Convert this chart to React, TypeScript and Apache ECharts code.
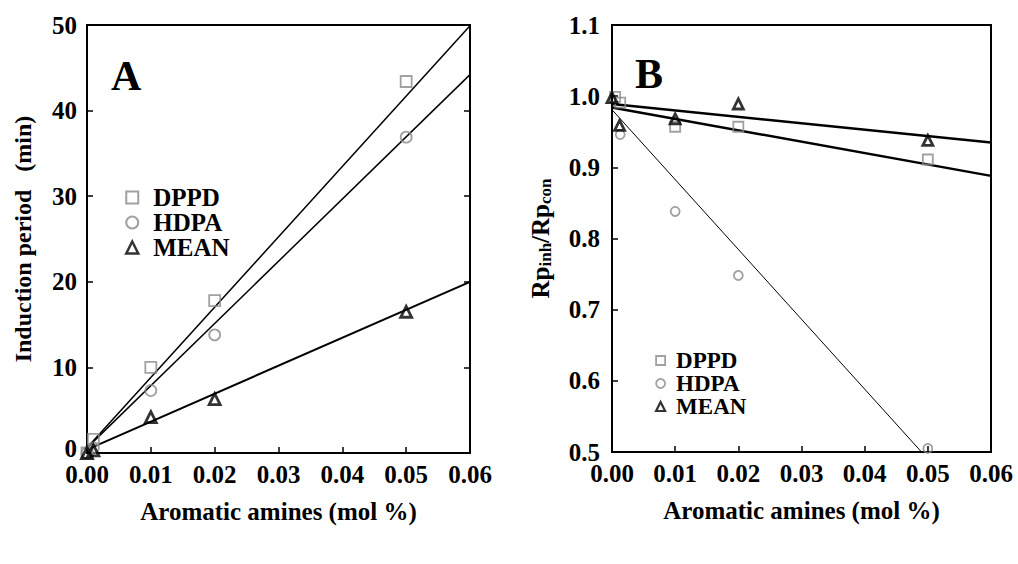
import React, { useEffect, useRef } from "react";
import * as echarts from "echarts";

// ---------- Panel A: induction period (min) ----------
const aDPPD: number[][] = [[0, 0], [0.001, 1.6], [0.01, 10.0], [0.02, 17.8], [0.05, 43.4]];
const aHDPA: number[][] = [[0, 0], [0.001, 0.6], [0.01, 7.3], [0.02, 13.8], [0.05, 36.9]];
const aMEAN: number[][] = [[0, 0], [0.001, 0.3], [0.01, 4.2], [0.02, 6.3], [0.05, 16.5]];
const aFitDPPD: number[][] = [[0, 0.6], [0.06, 49.9]];
const aFitHDPA: number[][] = [[0, 0.6], [0.06, 44.2]];
const aFitMEAN: number[][] = [[0, 0.4], [0.06, 20.0]];

// ---------- Panel B: Rp_inh / Rp_con ----------
const bDPPD: number[][] = [[0.0005, 0.999], [0.0013, 0.991], [0.01, 0.957], [0.02, 0.957], [0.05, 0.911]];
const bHDPA: number[][] = [[0.0013, 0.946], [0.01, 0.838], [0.02, 0.748], [0.05, 0.505]];
const bMEAN: number[][] = [[0, 0.998], [0.0012, 0.959], [0.01, 0.968], [0.02, 0.989], [0.05, 0.938]];
const bFitDPPD: number[][] = [[0, 0.984], [0.06, 0.888]];
const bFitHDPA: number[][] = [[0, 0.981], [0.049, 0.5]];
const bFitMEAN: number[][] = [[0, 0.989], [0.06, 0.935]];

const xTicks = [0, 0.01, 0.02, 0.03, 0.04, 0.05, 0.06];
const seriesNames = ["DPPD", "HDPA", "MEAN"];

const FONT = "'Liberation Serif', 'DejaVu Serif', serif";
const GRAY = "#8a8a8a";

export default function App() {
  const ref = useRef<HTMLDivElement>(null);
  useEffect(() => {
    if (!ref.current) return;
    const chart = echarts.init(ref.current, null, { renderer: "svg" });
    const tickLabel = { color: "#000", fontFamily: FONT, fontWeight: "bold" as const, fontSize: 25 };
    const xAxisBase = (gridIndex: number) => ({
      type: "value" as const,
      gridIndex,
      min: xTicks[0],
      max: xTicks[xTicks.length - 1],
      interval: 0.01,
      axisLine: { show: true, lineStyle: { color: "#000", width: 2 } },
      axisTick: { show: true, inside: true, length: 6, lineStyle: { color: "#000", width: 1.5 } },
      axisLabel: { ...tickLabel, margin: 9, formatter: (v: number) => v.toFixed(2) },
      splitLine: { show: false },
      name: "Aromatic amines (mol %)",
      nameLocation: "middle" as const,
      nameGap: 46,
      nameTextStyle: { color: "#000", fontFamily: FONT, fontWeight: "bold" as const, fontSize: 25 },
    });
    const scatter = (name: string, data: number[][], idx: number, symbol: string, color: string, size: number, bw: number) => ({
      type: "scatter" as const,
      name,
      data,
      xAxisIndex: idx,
      yAxisIndex: idx === 0 ? 0 : 2,
      symbol,
      symbolSize: size,
      clip: false,
      z: 5,
      itemStyle: { color: "rgba(255,255,255,0)", borderColor: color, borderWidth: bw },
    });
    const fit = (name: string, data: number[][], idx: number, width: number) => ({
      type: "line" as const,
      name,
      data,
      xAxisIndex: idx,
      yAxisIndex: idx === 0 ? 0 : 2,
      symbol: "none",
      silent: true,
      z: 3,
      lineStyle: { color: "#000", width },
    });
    const legendBase = {
      orient: "vertical" as const,
      selectedMode: false,
      itemGap: 0,
      textStyle: { color: "#000", fontFamily: FONT, fontWeight: "bold" as const, fontSize: 25, lineHeight: 23 },
    };
    chart.setOption({
      animation: false,
      backgroundColor: "#fff",
      grid: [
        { left: 87, top: 25, width: 383, height: 428, show: true, borderColor: "#000", borderWidth: 2, backgroundColor: "transparent" },
        { left: 612, top: 25, width: 379, height: 427, show: true, borderColor: "#000", borderWidth: 2, backgroundColor: "transparent" },
      ],
      xAxis: [xAxisBase(0), xAxisBase(1)],
      yAxis: [
        {
          type: "value",
          gridIndex: 0,
          min: 0,
          max: 50,
          interval: 10,
          axisLine: { show: true, lineStyle: { color: "#000", width: 2 } },
          axisTick: { show: true, inside: true, length: 6, lineStyle: { color: "#000", width: 1.5 } },
          axisLabel: {
            ...tickLabel,
            margin: 10,
            formatter: (v: number) => (v === 0 ? "{z|0}" : String(v)),
            rich: { z: { color: "#000", fontFamily: FONT, fontWeight: "bold", fontSize: 25, padding: [0, 0, 10, 0] } },
          },
          splitLine: { show: false },
          name: "Induction period   (min)",
          nameLocation: "middle",
          nameGap: 52,
          nameTextStyle: { color: "#000", fontFamily: FONT, fontWeight: "bold", fontSize: 24 },
        },
        {
          type: "value",
          gridIndex: 0,
          position: "right",
          min: 0,
          max: 50,
          interval: 10,
          axisLine: { show: true, lineStyle: { color: "#000", width: 2 } },
          axisTick: { show: true, inside: true, length: 6, lineStyle: { color: "#000", width: 1.5 } },
          axisLabel: { show: false },
          splitLine: { show: false },
        },
        {
          type: "value",
          gridIndex: 1,
          min: 0.5,
          max: 1.1,
          interval: 0.1,
          axisLine: { show: true, lineStyle: { color: "#000", width: 2 } },
          axisTick: { show: true, inside: true, length: 6, lineStyle: { color: "#000", width: 1.5 } },
          axisLabel: { ...tickLabel, margin: 12, formatter: (v: number) => v.toFixed(1) },
          splitLine: { show: false },
          name: "{a|Rp}{s|inh}{a|/Rp}{s|con}",
          nameLocation: "middle",
          nameGap: 58,
          nameTextStyle: {
            rich: {
              a: { color: "#000", fontFamily: FONT, fontWeight: "bold", fontSize: 25 },
              s: { color: "#000", fontFamily: FONT, fontWeight: "bold", fontSize: 17, padding: [10, 0, 0, 0] },
            },
          },
        },
      ],
      legend: [
        {
          ...legendBase,
          left: 120,
          top: 180,
          itemWidth: 12,
          itemHeight: 12,
          textStyle: { ...legendBase.textStyle, padding: [0, 0, 0, 10] },
          data: [
            { name: "DPPD", icon: "rect", itemStyle: { color: "rgba(255,255,255,0)", borderColor: GRAY, borderWidth: 2 } },
            { name: "HDPA", icon: "circle", itemStyle: { color: "rgba(255,255,255,0)", borderColor: GRAY, borderWidth: 2 } },
            { name: "MEAN", icon: "triangle", itemStyle: { color: "rgba(255,255,255,0)", borderColor: "#000", borderWidth: 2.5 } },
          ],
        },
        {
          ...legendBase,
          left: 650,
          top: 344,
          itemGap: 0,
          itemWidth: 9,
          itemHeight: 9,
          textStyle: { ...legendBase.textStyle, fontSize: 23, lineHeight: 22, padding: [0, 0, 0, 6] },
          data: [
            { name: "DPPD", icon: "rect", itemStyle: { color: "rgba(255,255,255,0)", borderColor: GRAY, borderWidth: 1.8 } },
            { name: "HDPA", icon: "circle", itemStyle: { color: "rgba(255,255,255,0)", borderColor: GRAY, borderWidth: 1.8 } },
            { name: "MEAN", icon: "triangle", itemStyle: { color: "rgba(255,255,255,0)", borderColor: "#000", borderWidth: 2.2 } },
          ],
        },
      ],
      graphic: [
        { type: "text", left: 111, top: 55, style: { text: "A", fill: "#000", font: `bold 42px 'Liberation Serif', serif` } },
        { type: "text", left: 635, top: 53, style: { text: "B", fill: "#000", font: `bold 42px 'Liberation Serif', serif` } },
      ],
      series: [
        fit("fitA-DPPD", aFitDPPD, 0, 1.5),
        fit("fitA-HDPA", aFitHDPA, 0, 1.5),
        fit("fitA-MEAN", aFitMEAN, 0, 2),
        scatter(seriesNames[0], aDPPD, 0, "rect", GRAY, 11, 1.8),
        scatter(seriesNames[1], aHDPA, 0, "circle", GRAY, 11, 1.8),
        scatter(seriesNames[2], aMEAN, 0, "triangle", "#000", 11, 2.8),
        fit("fitB-DPPD", bFitDPPD, 1, 2.5),
        fit("fitB-HDPA", bFitHDPA, 1, 1),
        fit("fitB-MEAN", bFitMEAN, 1, 2.5),
        scatter(seriesNames[0], bDPPD, 1, "rect", GRAY, 10, 1.8),
        scatter(seriesNames[1], bHDPA, 1, "circle", GRAY, 9, 1.8),
        scatter(seriesNames[2], bMEAN, 1, "triangle", "#000", 10, 2.8),
      ],
    });
    return () => chart.dispose();
  }, []);
  return <div ref={ref} style={{ width: 1018, height: 564, position: "absolute", left: 0, top: 0 }} />;
}
